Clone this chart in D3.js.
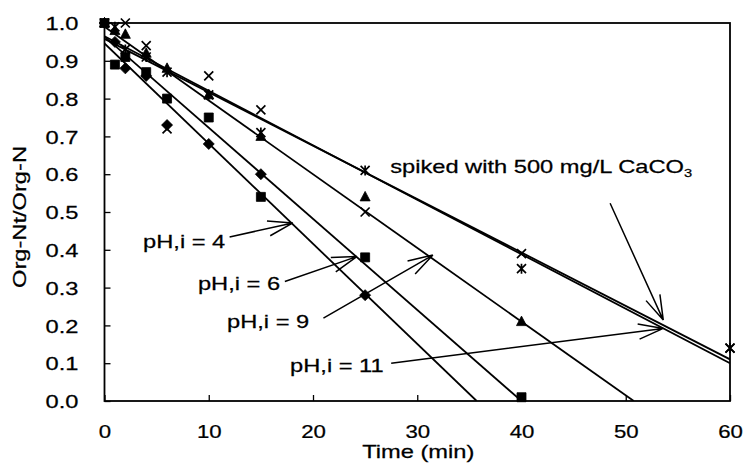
<!DOCTYPE html>
<html>
<head>
<meta charset="utf-8">
<script src="https://cdn.jsdelivr.net/npm/d3@7"></script>
<style>
  html, body { margin: 0; padding: 0; background: #fff; }
  svg { display: block; }
  text { font-family: "Liberation Sans", Arial, sans-serif; fill: #000; stroke: #000; stroke-width: 0.25px; }
</style>
</head>
<body>
<div id="chart"></div>
<script>
// Series (time in min, Org-Nt/Org-N)
const timePH4 = [0, 1, 2, 4, 6, 10, 15, 25];
const valPH4 = [1.00, 0.95, 0.88, 0.86, 0.73, 0.68, 0.60, 0.28];
const timePH6 = [0, 1, 2, 4, 6, 10, 15, 25, 40];
const valPH6 = [1.00, 0.89, 0.91, 0.87, 0.80, 0.75, 0.54, 0.38, 0.01];
const timePH9 = [0, 1, 2, 4, 6, 10, 15, 25, 40];
const valPH9 = [1.00, 0.98, 0.97, 0.92, 0.88, 0.81, 0.70, 0.54, 0.21];
const timePH11 = [0, 2, 4, 6, 10, 15, 25, 40, 60];
const valPH11 = [1.00, 1.00, 0.94, 0.72, 0.86, 0.77, 0.50, 0.39, 0.14];
const timeSpiked = [0, 1, 2, 4, 6, 10, 15, 25, 40, 60];
const valSpiked = [1.00, 0.99, 0.93, 0.91, 0.87, 0.81, 0.71, 0.61, 0.35, 0.14];

const seriesNames = ["pH4", "pH6", "pH9", "pH11", "spiked"];
const seriesMarkers = ["diamond", "square", "triangle", "cross", "star"];
// linear fits: value at t = 0 and slope per minute
const fitIntercept = [0.946, 0.964, 0.990, 0.958, 0.965];
const fitSlope = [-0.0265, -0.0241, -0.0195, -0.01413, -0.01442];

const xTicks = [0, 10, 20, 30, 40, 50, 60];
const yTicks = [0, 0.1, 0.2, 0.3, 0.4, 0.5, 0.6, 0.7, 0.8, 0.9, 1.0];

// annotations: label, label position, arrow start, arrow tip (data units)
const noteLabels = ["pH,i = 4", "pH,i = 6", "pH,i = 9", "pH,i = 11", "spiked with 500 mg/L CaCO"];
const noteText = [[3.7, 0.405], [8.96, 0.294], [11.75, 0.193], [17.8, 0.077], [27.4, 0.603]];
const noteFrom = [[12.0, 0.434], [17.3, 0.316], [21.0, 0.219], [27.5, 0.100], [48.5, 0.523]];
const noteTo = [[18.07, 0.471], [24.2, 0.382], [31.5, 0.386], [53.6, 0.192], [53.6, 0.214]];

const series = seriesNames.map((name, i) => {
  const t = [timePH4, timePH6, timePH9, timePH11, timeSpiked][i];
  const v = [valPH4, valPH6, valPH9, valPH11, valSpiked][i];
  return {name, marker: seriesMarkers[i], a: fitIntercept[i], b: fitSlope[i],
    points: t.map((d, j) => ({t: d, v: v[j]}))};
});

const width = 743, height = 469;
const margin = {top: 23, right: 13, bottom: 68, left: 104.5};
const fontSize = 18.5, stretch = 1.28;

const x = d3.scaleLinear([0, 60], [margin.left, width - margin.right]);
const y = d3.scaleLinear([0, 1], [height - margin.bottom, margin.top]);

const svg = d3.select("#chart").append("svg")
  .attr("width", width)
  .attr("height", height)
  .attr("font-size", fontSize);

const plot = svg.append("g");

// fitted lines, cut at the x axis
const clipId = "plotclip";
svg.append("clipPath").attr("id", clipId).append("rect")
  .attr("x", x(0)).attr("y", y(1) - 2)
  .attr("width", x(60) - x(0)).attr("height", y(0) - y(1) + 2);

plot.append("g").attr("clip-path", `url(#${clipId})`)
  .selectAll("line")
  .data(series)
  .join("line")
  .attr("x1", x(0))
  .attr("y1", d => y(d.a))
  .attr("x2", d => x(Math.min(60, -d.a / d.b)))
  .attr("y2", d => y(Math.max(0, d.a + d.b * 60)))
  .attr("stroke", "#000")
  .attr("stroke-width", 1.8);

// markers
const markerPath = {
  diamond: "M0,-5.5L5.5,0L0,5.5L-5.5,0Z",
  square: "M-4.5,-4.5H4.5V4.5H-4.5Z",
  triangle: "M0,-5.5L5,4L-5,4Z",
  cross: "M-4.5,-4.5L4.5,4.5M4.5,-4.5L-4.5,4.5",
  star: "M-4.5,-4.5L4.5,4.5M4.5,-4.5L-4.5,4.5M0,-5L0,5"
};

series.forEach(s => {
  const filled = s.marker === "diamond" || s.marker === "square" || s.marker === "triangle";
  plot.append("g")
    .selectAll("path")
    .data(s.points)
    .join("path")
    .attr("transform", d => `translate(${x(d.t)},${y(d.v)})`)
    .attr("d", markerPath[s.marker])
    .attr("fill", filled ? "#000" : "none")
    .attr("stroke", "#000")
    .attr("stroke-width", filled ? 0.8 : 1.7);
});

// frame
svg.append("rect")
  .attr("x", x(0)).attr("y", y(1))
  .attr("width", x(60) - x(0)).attr("height", y(0) - y(1))
  .attr("fill", "none")
  .attr("stroke", "#000")
  .attr("stroke-width", 1.8);

// axes with inside ticks
const xAxis = svg.append("g")
  .attr("transform", `translate(0,${y(0)})`)
  .call(d3.axisBottom(x).tickValues(xTicks).tickSize(-6).tickPadding(0).tickFormat(d3.format("d")));
const yAxis = svg.append("g")
  .attr("transform", `translate(${x(0)},0)`)
  .call(d3.axisLeft(y).tickValues(yTicks).tickSize(-6).tickPadding(0).tickFormat(d3.format(".1f")));

[xAxis, yAxis].forEach(g => {
  g.select(".domain").remove();
  g.selectAll(".tick line").attr("stroke", "#000").attr("stroke-width", 1.3);
  g.selectAll(".tick text").attr("font-size", fontSize).attr("fill", "#000");
});
xAxis.selectAll(".tick text")
  .attr("y", 0).attr("dy", null)
  .attr("transform", `translate(0,37) scale(1.2,1)`);
yAxis.selectAll(".tick text")
  .attr("x", 0).attr("dy", "0.36em")
  .attr("transform", `translate(-26,0) scale(${stretch},1)`);

// axis titles
svg.append("text")
  .attr("text-anchor", "middle")
  .attr("transform", `translate(${(x(0) + x(60)) / 2 + 1},${height - 11}) scale(${stretch},1)`)
  .text("Time (min)");
svg.append("text")
  .attr("text-anchor", "middle")
  .attr("transform", `translate(26,${(y(0) + y(1)) / 2 + 5}) rotate(-90) scale(${stretch},1)`)
  .text("Org-Nt/Org-N");

// annotation labels
noteLabels.forEach((label, i) => {
  const t = svg.append("text")
    .attr("transform", `translate(${x(noteText[i][0])},${y(noteText[i][1])}) scale(${stretch},1)`)
    .text(label);
  if (i === 4) {
    t.append("tspan").attr("font-size", fontSize * 0.62).attr("dy", 4).text("3");
  }
});

// arrows with open heads
const headLen = 26, headAngle = 17 * Math.PI / 180;
noteFrom.forEach((from, i) => {
  const x1 = x(from[0]), y1 = y(from[1]);
  const x2 = x(noteTo[i][0]), y2 = y(noteTo[i][1]);
  const ang = Math.atan2(y1 - y2, x1 - x2);
  const head = [ang - headAngle, ang + headAngle]
    .map(a => `M${x2 + headLen * Math.cos(a)},${y2 + headLen * Math.sin(a)}L${x2},${y2}`).join("");
  svg.append("path")
    .attr("d", `M${x1},${y1}L${x2},${y2}` + head)
    .attr("fill", "none")
    .attr("stroke", "#000")
    .attr("stroke-width", 1.5);
});
</script>
</body>
</html>
